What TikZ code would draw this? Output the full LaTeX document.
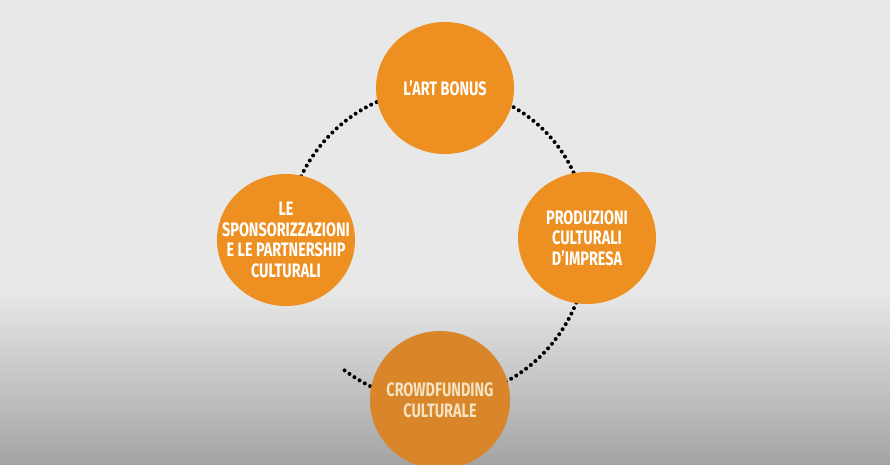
\documentclass[tikz,border=0pt]{standalone}
\usepackage{fontspec}
\setmainfont{Fira Sans}[FakeStretch=0.74]
\usepackage{tikz}
\usetikzlibrary{shapes.geometric, positioning, backgrounds}
\definecolor{bgtop}{HTML}{E8E8E8}
\definecolor{bgbottom}{HTML}{A4A4A4}
\definecolor{bubble}{HTML}{EE8F21}
\definecolor{bubbledark}{HTML}{D9852A}
\definecolor{cream}{HTML}{F3E3C2}

\begin{document}
\begin{tikzpicture}[
  x=1pt, y=-1pt,
  caption/.style={font=\bfseries\fontsize{19.5}{20.5}\selectfont, text=white, align=center},
  topic/.style={draw=none, ellipse, fill=bubble, minimum width=138, minimum height=132, inner sep=0pt},
  link/.style={line width=4pt, line cap=round, dash pattern=on 0pt off 6pt, black}
]

% Nodes
\useasboundingbox (0,0) rectangle (890,465);
\node[topic, label={[caption]center:L'ART BONUS}] (artbonus) at (445,88) {};
\node[topic, label={[caption]center:LE\\SPONSORIZZAZIONI\\E LE PARTNERSHIP\\CULTURALI}] (sponsor) at (286,240) {};
\node[topic, label={[caption]center:PRODUZIONI\\CULTURALI\\D'IMPRESA}] (produzioni) at (587,238) {};
\node[topic, fill=bubbledark, minimum width=140, minimum height=138,
  label={[caption, text=cream]center:CROWDFUNDING\\CULTURALE}] (crowd) at (440,400) {};
\coordinate (gapend) at (340,367);

% Background and dotted ring
\begin{scope}[on background layer]
\fill[bgtop] (0,0) rectangle (890,292);
\shade[top color=bgtop, bottom color=bgbottom] (0,290) rectangle (890,465);
\draw[link] (sponsor.center) to[bend left=45] (artbonus.center);
\draw[link] (artbonus.center) to[bend left=45] (produzioni.center);
\draw[link] (produzioni.center) to[bend left=45] (crowd.center);
\draw[link] (crowd.center) to[bend left=19] (gapend);
\end{scope}
\end{tikzpicture}
\end{document}
